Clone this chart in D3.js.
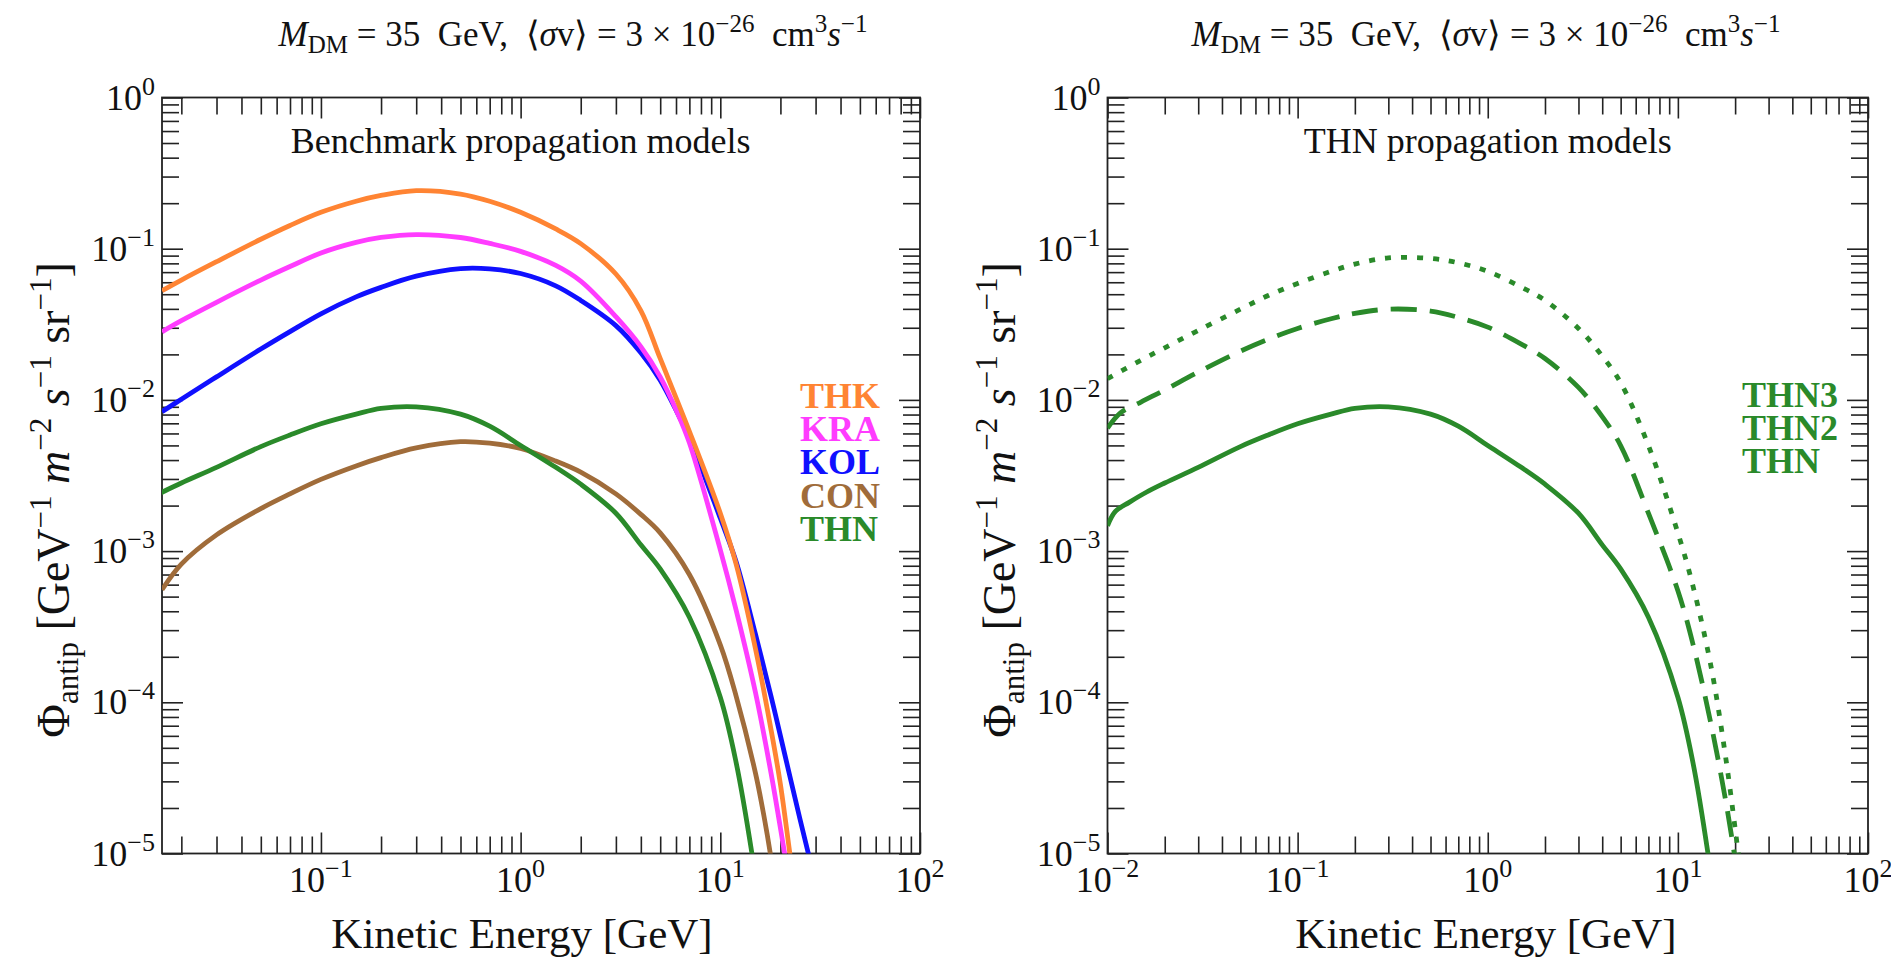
<!DOCTYPE html>
<html>
<head>
<meta charset="utf-8">
<script src="https://cdn.jsdelivr.net/npm/d3@7"></script>
<style>
  body { margin: 0; background: #fff; }
  svg text { font-family: "Liberation Serif", "Times New Roman", serif; fill: #111; white-space: pre; }
</style>
</head>
<body>
<svg id="chart" width="1891" height="964"></svg>
<script>
// ---- Antiproton flux, benchmark propagation models (kinetic energy in GeV, flux in GeV^-1 m^-2 s^-1 sr^-1)
const thkEnergy = [0.016,0.02,0.03,0.05,0.07,0.1,0.15,0.2,0.3,0.5,0.7,1,1.5,2,3,4,5,7,10,12,15,18,20,22.3,23.5];
const thkFlux   = [0.0527,0.062,0.082,0.1155,0.1425,0.174,0.206,0.225,0.242,0.23,0.206,0.174,0.135,0.108,0.068,0.039,0.0188,0.0062,0.00178,8.2e-4,2.26e-4,6.46e-5,2.87e-5,1e-5,6e-6];

const kraEnergy = [0.016,0.02,0.03,0.05,0.07,0.1,0.15,0.2,0.3,0.5,0.7,1,1.5,2,3,4,5,6.1,7,10,12,15,18,21,22];
const kraFlux   = [0.0282,0.0334,0.0442,0.062,0.0762,0.0936,0.11,0.1186,0.124,0.1186,0.1084,0.096,0.0775,0.061,0.0355,0.0225,0.0142,0.0082,0.0052,0.00102,4.07e-4,1.16e-4,3.33e-5,1e-5,7e-6];

const kolEnergy = [0.016,0.02,0.03,0.05,0.07,0.1,0.15,0.2,0.3,0.5,0.7,1,1.5,2,3,4,5,6.1,7,10,12,15,18,20,25,27.6,29];
const kolFlux   = [0.00836,0.0101,0.0142,0.0217,0.0283,0.0371,0.048,0.0555,0.0658,0.0738,0.0735,0.0685,0.0568,0.0455,0.031,0.0205,0.0135,0.0082,0.0056,0.00165,8.51e-4,2.82e-4,1.08e-4,6.0e-5,1.71e-5,1e-5,7.5e-6];

const conEnergy = [0.016,0.02,0.03,0.05,0.07,0.1,0.15,0.2,0.3,0.5,0.7,1,1.5,2,3,4,5,7,10,12,15,16.5,17.8,19];
const conFlux   = [5.55e-4,8.2e-4,0.00128,0.00191,0.00239,0.00298,0.00366,0.00415,0.00481,0.00529,0.00517,0.00477,0.00394,0.00333,0.00239,0.00175,0.00132,7.0e-4,2.4e-4,1.1e-4,3.4e-5,1.8e-5,1e-5,5.5e-6];

const thnEnergy = [0.01,0.011,0.013,0.016,0.02,0.03,0.05,0.07,0.1,0.15,0.2,0.3,0.5,0.7,1,1.5,2,3,4,5,7,10,12,14.4,15.5];
const thnFlux   = [0.00147,0.00183,0.0021,0.00245,0.00282,0.00358,0.00491,0.00586,0.00695,0.00805,0.00879,0.009,0.00805,0.0067,0.005,0.00358,0.00277,0.00178,0.0011,7.62e-4,3.65e-4,1.08e-4,4.0e-5,1e-5,5e-6];

// ---- THN family with thicker diffusive halos
const thn2Energy = [0.01,0.0117,0.015,0.02,0.03,0.05,0.07,0.1,0.15,0.2,0.3,0.5,0.7,1,1.5,2,3,4,5,7,10,12,15,18,19.8,21];
const thn2Flux   = [0.0065,0.0082,0.00968,0.01164,0.01528,0.021,0.0252,0.0297,0.0344,0.0373,0.0398,0.0387,0.0351,0.0303,0.0234,0.0188,0.0121,0.00776,0.00499,0.00178,5.47e-4,2.43e-4,7.0e-5,2.1e-5,1e-5,6e-6];

const thn3Energy = [0.01,0.015,0.02,0.03,0.05,0.07,0.1,0.15,0.2,0.3,0.5,0.7,1,1.5,2,3,4,5,7,10,12,15,18,20.8,22];
const thn3Flux   = [0.0138,0.0183,0.0221,0.0288,0.0398,0.049,0.0589,0.0708,0.0791,0.0869,0.0863,0.0807,0.0708,0.0558,0.0455,0.0297,0.0195,0.013,0.00499,0.00132,5.89e-4,1.68e-4,4.0e-5,1e-5,6e-6];

// ---- Labels
const benchNames  = ["THK", "KRA", "KOL", "CON", "THN"];
const benchColors = ["#ff8433", "#ff3cff", "#1010ff", "#a06c3a", "#2a8a2a"];
const thnNames    = ["THN3", "THN2", "THN"];
const thnGreen    = "#2a8a2a";
const yMajorExp   = [0, -1, -2, -3, -4, -5];

const svg = d3.select("#chart");

// Text made of runs with their own size, slant and vertical offset (sub/superscripts)
function richText(textSel, parts, baseSize) {
  let cur = 0;
  parts.forEach(p => {
    const off = p.off || 0;
    const ts = textSel.append("tspan")
      .attr("dy", off - cur)
      .attr("font-size", p.sz || baseSize)
      .text(p.t);
    if (p.it) ts.attr("font-style", "italic");
    cur = off;
  });
  return textSel;
}

const tickSize = 36, supSize = 26;
function powerLabel(exp) {
  const e = exp < 0 ? "\u2212" + Math.abs(exp) : String(exp);
  return [{ t: "10" }, { t: e, sz: supSize, off: -15 }];
}

const titleParts = [
  { t: "M", it: 1 }, { t: "DM", sz: 25, off: 7 },
  { t: " = 35  GeV,  \u27e8" }, { t: "\u03c3", it: 1 }, { t: "v\u27e9 = 3 \u00d7 10" },
  { t: "\u221226", sz: 25, off: -14 }, { t: "  cm" }, { t: "3", sz: 25, off: -14 },
  { t: "s", it: 1 }, { t: "\u22121", sz: 25, off: -14 }
];

const yLabelParts = [
  { t: "\u03a6" }, { t: "antip", sz: 31, off: 9 }, { t: " [GeV" },
  { t: "\u22121", sz: 31, off: -18 }, { t: " " }, { t: "m", it: 1 },
  { t: "\u22122", sz: 31, off: -18 }, { t: " " }, { t: "s", it: 1 },
  { t: "\u22121", sz: 31, off: -18 }, { t: " sr" }, { t: "\u22121", sz: 31, off: -18 }, { t: "]" }
];

function drawPanel(cfg) {
  const g = svg.append("g");
  const x = d3.scaleLog().domain(cfg.xDomain).range([cfg.x0, cfg.x1]);
  const y = d3.scaleLog().domain([1e-5, 1]).range([cfg.y1, cfg.y0]);

  const clipId = "clip-" + cfg.id;
  svg.append("clipPath").attr("id", clipId).append("rect")
    .attr("x", cfg.x0).attr("y", cfg.y0)
    .attr("width", cfg.x1 - cfg.x0).attr("height", cfg.y1 - cfg.y0);

  const isMajor = v => Math.abs(Math.log10(v) - Math.round(Math.log10(v))) < 1e-9;
  const xt = x.ticks(), yt = y.ticks();
  const xMaj = xt.filter(isMajor), xMin = xt.filter(v => !isMajor(v));
  const yMaj = yt.filter(isMajor), yMin = yt.filter(v => !isMajor(v));

  const styleAxis = a => {
    a.select(".domain").remove();
    a.selectAll(".tick line").attr("stroke", "#222").attr("stroke-width", 1.6);
  };
  const minorLen = 17, majorLen = 21;
  [[xMin, minorLen], [xMaj, majorLen]].forEach(([vals, len]) => {
    g.append("g").attr("transform", `translate(0,${cfg.y1})`)
      .call(d3.axisBottom(x).tickValues(vals).tickSize(-len).tickFormat("")).call(styleAxis);
    g.append("g").attr("transform", `translate(0,${cfg.y0})`)
      .call(d3.axisTop(x).tickValues(vals).tickSize(-len).tickFormat("")).call(styleAxis);
  });
  [[yMin, minorLen], [yMaj, majorLen]].forEach(([vals, len]) => {
    g.append("g").attr("transform", `translate(${cfg.x0},0)`)
      .call(d3.axisLeft(y).tickValues(vals).tickSize(-len).tickFormat("")).call(styleAxis);
    g.append("g").attr("transform", `translate(${cfg.x1},0)`)
      .call(d3.axisRight(y).tickValues(vals).tickSize(-len).tickFormat("")).call(styleAxis);
  });

  // frame
  g.append("rect").attr("x", cfg.x0).attr("y", cfg.y0)
    .attr("width", cfg.x1 - cfg.x0).attr("height", cfg.y1 - cfg.y0)
    .attr("fill", "none").attr("stroke", "#222").attr("stroke-width", 1.8);

  // tick labels
  xMaj.forEach(v => {
    const t = g.append("text").attr("x", x(v)).attr("y", cfg.y1 + 38)
      .attr("text-anchor", "middle").attr("font-size", tickSize);
    richText(t, powerLabel(Math.round(Math.log10(v))), tickSize);
  });
  yMajorExp.forEach(e => {
    const t = g.append("text").attr("x", cfg.x0 - 7).attr("y", y(Math.pow(10, e)) + 12)
      .attr("text-anchor", "end").attr("font-size", tickSize);
    richText(t, powerLabel(e), tickSize);
  });

  // axis titles
  g.append("text").attr("x", cfg.xTitleX).attr("y", 948)
    .attr("text-anchor", "middle").attr("font-size", 43).text("Kinetic Energy [GeV]");
  const yl = g.append("text")
    .attr("transform", `translate(${cfg.x0 - 93},500) rotate(-90)`)
    .attr("text-anchor", "middle").attr("font-size", 46);
  richText(yl, yLabelParts, 46);

  // figure title and panel caption
  const tt = g.append("text").attr("x", cfg.titleX).attr("y", 46)
    .attr("text-anchor", "middle").attr("font-size", 35);
  richText(tt, titleParts, 35);
  g.append("text").attr("x", x(1)).attr("y", 153)
    .attr("text-anchor", "middle").attr("font-size", 36).text(cfg.caption);

  // curves
  const line = d3.line().x(d => x(d[0])).y(d => y(d[1])).curve(d3.curveCatmullRom.alpha(0.5));
  const curves = g.append("g").attr("clip-path", `url(#${clipId})`);
  cfg.series.forEach(s => {
    curves.append("path").datum(d3.zip(s.e, s.f))
      .attr("d", line).attr("fill", "none")
      .attr("stroke", s.color).attr("stroke-width", 4.8)
      .attr("stroke-linejoin", "round")
      .attr("stroke-dasharray", s.dash || null);
  });

  // legend
  cfg.legend.forEach((d, i) => {
    g.append("text").attr("x", cfg.legendX).attr("y", cfg.legendY + i * 33.2)
      .attr("font-size", 36).attr("font-weight", "bold")
      .style("fill", d.color).text(d.name);
  });
}

drawPanel({
  id: "bench", x0: 162, x1: 920, y0: 97.5, y1: 853.5, xDomain: [0.016, 100],
  titleX: 573, xTitleX: 522, caption: "Benchmark propagation models",
  series: [
    { e: conEnergy, f: conFlux, color: benchColors[3] },
    { e: thnEnergy, f: thnFlux, color: benchColors[4] },
    { e: kolEnergy, f: kolFlux, color: benchColors[2] },
    { e: kraEnergy, f: kraFlux, color: benchColors[1] },
    { e: thkEnergy, f: thkFlux, color: benchColors[0] }
  ],
  legend: benchNames.map((n, i) => ({ name: n, color: benchColors[i] })),
  legendX: 800, legendY: 408
});

drawPanel({
  id: "thn", x0: 1107.5, x1: 1868, y0: 97.5, y1: 853.5, xDomain: [0.01, 100],
  titleX: 1486, xTitleX: 1486, caption: "THN propagation models",
  series: [
    { e: thnEnergy, f: thnFlux, color: thnGreen },
    { e: thn2Energy, f: thn2Flux, color: thnGreen, dash: "26,13" },
    { e: thn3Energy, f: thn3Flux, color: thnGreen, dash: "6,10" }
  ],
  legend: thnNames.map(n => ({ name: n, color: thnGreen })),
  legendX: 1742, legendY: 407
});
</script>
</body>
</html>
